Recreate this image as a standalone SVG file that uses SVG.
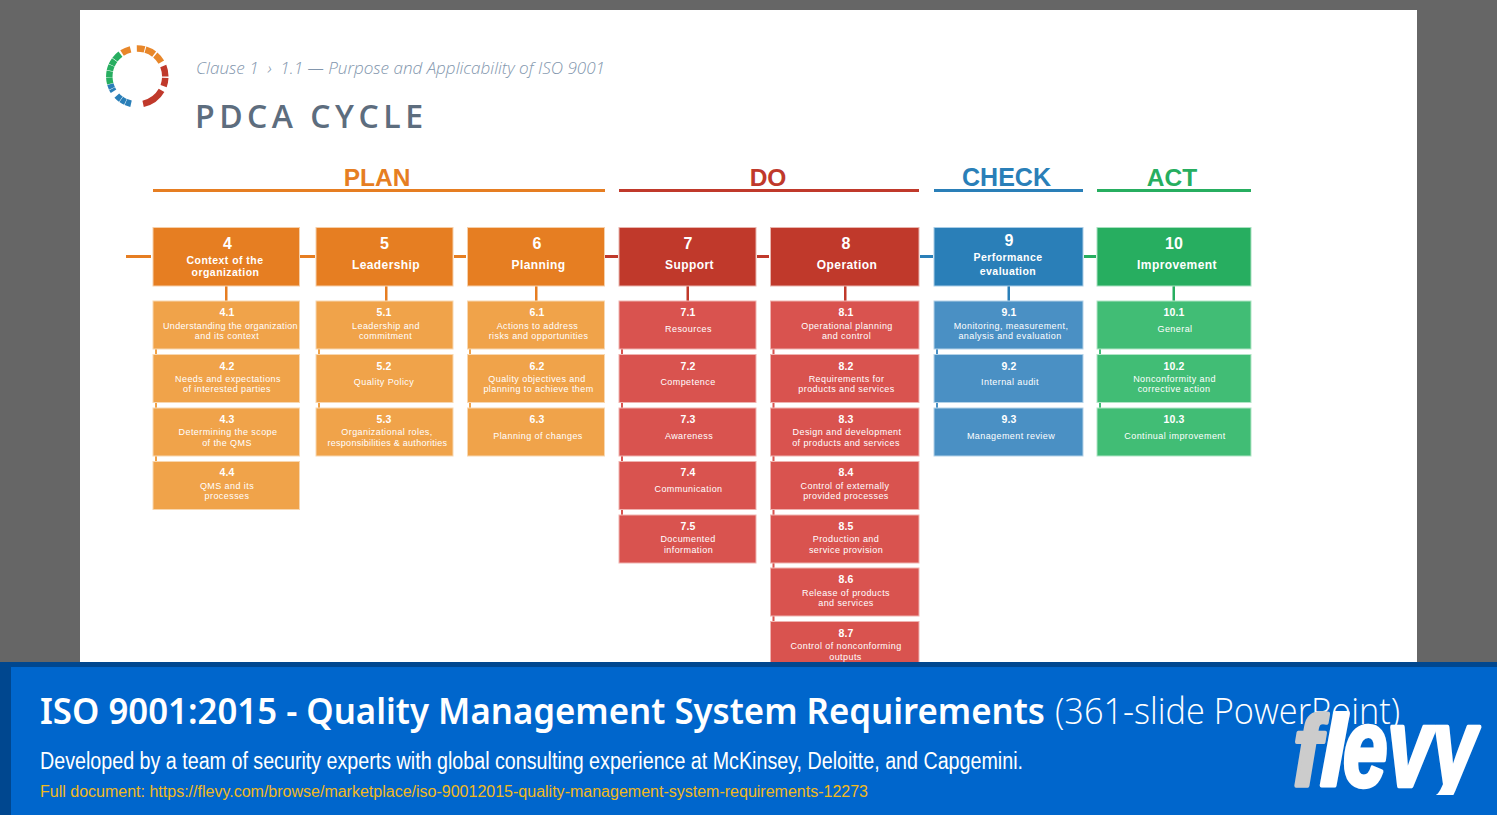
<svg xmlns="http://www.w3.org/2000/svg" width="1497" height="815" viewBox="0 0 1497 815">
<style>
text{font-family:"Liberation Sans",Arial,sans-serif}
.sec{font-size:24.5px;font-weight:700;text-anchor:middle}
.hn{font-size:16px;font-weight:700;fill:#fff;text-anchor:middle}
.ht{font-size:12px;font-weight:700;fill:#fff;text-anchor:middle;letter-spacing:.4px}
.ht2{font-size:10.5px;font-weight:700;fill:#fff;text-anchor:middle;letter-spacing:.45px}
.n{font-size:10.5px;font-weight:700;fill:#fff;text-anchor:middle;letter-spacing:.2px}
.b{font-size:9px;fill:#fff;text-anchor:middle;letter-spacing:.42px}
.o .h{fill:#e67e22;stroke:#f6cfa9}.o .s{fill:#f0a34a;stroke:#f8d7b0}
.r .h{fill:#c0392b;stroke:#e8b5ae}.r .s{fill:#d9534f;stroke:#efb3b0}
.u .h{fill:#2a7fb8;stroke:#a9cde6}.u .s{fill:#4a90c4;stroke:#b3d2e8}
.g .h{fill:#27ae60;stroke:#a7e0bf}.g .s{fill:#41bd75;stroke:#b1e5c6}
.ring circle{fill:none;stroke-width:6.5}
</style>
<defs><clipPath id="logoclip"><rect x="1280" y="700" width="210" height="95"/></clipPath></defs>
<rect width="1497" height="815" fill="#666"/>
<rect x="80" y="10" width="1337" height="652" fill="#fff"/>
<g class="ring" transform="rotate(-90 137.300 76.500)">
<g stroke="#e8872a"><circle cx="137.300" cy="76.500" r="28" pathLength="360" stroke-dasharray="16 344" stroke-dashoffset="1"/><circle cx="137.300" cy="76.500" r="28" pathLength="360" stroke-dasharray="20 340" stroke-dashoffset="-17"/><circle cx="137.300" cy="76.500" r="28" pathLength="360" stroke-dasharray="19 341" stroke-dashoffset="-40"/><circle cx="137.300" cy="76.500" r="28" pathLength="360" stroke-dasharray="19 341" stroke-dashoffset="-327"/></g>
<g stroke="#c0392b"><circle cx="137.300" cy="76.500" r="28" pathLength="360" stroke-dasharray="22 338" stroke-dashoffset="-68"/><circle cx="137.300" cy="76.500" r="28" pathLength="360" stroke-dasharray="17 343" stroke-dashoffset="-93"/><circle cx="137.300" cy="76.500" r="28" pathLength="360" stroke-dasharray="48 312" stroke-dashoffset="-120"/></g>
<g stroke="#2a7fb8"><circle cx="137.300" cy="76.500" r="28" pathLength="360" stroke-dasharray="11 349" stroke-dashoffset="-193"/><circle cx="137.300" cy="76.500" r="28" pathLength="360" stroke-dasharray="10 350" stroke-dashoffset="-205"/><circle cx="137.300" cy="76.500" r="28" pathLength="360" stroke-dasharray="11 349" stroke-dashoffset="-216"/><circle cx="137.300" cy="76.500" r="28" pathLength="360" stroke-dasharray="6 354" stroke-dashoffset="-238"/><circle cx="137.300" cy="76.500" r="28" pathLength="360" stroke-dasharray="9 351" stroke-dashoffset="-245"/></g>
<g stroke="#27ae60"><circle cx="137.300" cy="76.500" r="28" pathLength="360" stroke-dasharray="13 347" stroke-dashoffset="-255"/><circle cx="137.300" cy="76.500" r="28" pathLength="360" stroke-dasharray="12 348" stroke-dashoffset="-269"/><circle cx="137.300" cy="76.500" r="28" pathLength="360" stroke-dasharray="11 349" stroke-dashoffset="-282"/><circle cx="137.300" cy="76.500" r="28" pathLength="360" stroke-dasharray="12 348" stroke-dashoffset="-294"/><circle cx="137.300" cy="76.500" r="28" pathLength="360" stroke-dasharray="16 344" stroke-dashoffset="-307"/></g>
</g>
<text x="196" y="74" style="font-family:'Open Sans','Noto Sans',sans-serif;font-style:italic;font-weight:300" font-size="17" fill="#8296ad" textLength="409" lengthAdjust="spacingAndGlyphs">Clause 1 &#160;› &#160;1.1 — Purpose and Applicability of ISO 9001</text>
<text x="195" y="128" style="font-family:'Open Sans','Noto Sans',sans-serif;font-weight:600" font-size="32" fill="#5d6d7e" textLength="228">PDCA CYCLE</text>

<g id="sections">
<text class="sec" x="377" y="186" fill="#e67e22">PLAN</text><rect x="153" y="189" width="452" height="3" fill="#e67e22"/>
<text class="sec" x="768" y="186" fill="#c0392b">DO</text><rect x="619" y="189" width="300" height="3" fill="#c0392b"/>
<text class="sec" x="1006.500" y="186" fill="#2a7fb8" style="font-size:25px">CHECK</text><rect x="934" y="189" width="149" height="3" fill="#2a7fb8"/>
<text class="sec" x="1172" y="186" fill="#27ae60">ACT</text><rect x="1097" y="189" width="154" height="3" fill="#27ae60"/>
</g>

<g id="connectors">
<g fill="#e67e22"><rect x="126" y="255" width="25" height="3"/><rect x="300" y="255" width="15" height="3"/><rect x="454" y="255" width="12" height="3"/><rect x="225" y="286" width="2.500" height="15"/><rect x="385" y="286" width="2.500" height="15"/><rect x="535" y="286" width="2.500" height="15"/></g>
<g fill="#c0392b"><rect x="605" y="255" width="13" height="3"/><rect x="757" y="255" width="12" height="3"/><rect x="686.500" y="286" width="2.500" height="15"/><rect x="844" y="286" width="2.500" height="15"/></g>
<g fill="#2a7fb8"><rect x="920" y="255" width="13" height="3"/><rect x="1007.500" y="286" width="2.500" height="15"/></g>
<g fill="#27ae60"><rect x="1084" y="255" width="12" height="3"/><rect x="1172.500" y="286" width="2.500" height="15"/></g>
<g fill="#f0a34a"><rect x="155" y="349" width="2" height="112"/><rect x="318" y="349" width="2" height="59"/><rect x="469" y="349" width="2" height="59"/></g>
<g fill="#d9534f"><rect x="621" y="349" width="2" height="166"/><rect x="772.500" y="349" width="2" height="272"/></g>
<rect x="936" y="349" width="2" height="59" fill="#4a90c4"/>
<rect x="1099" y="349" width="2" height="59" fill="#41bd75"/>
</g>

<g class="o">
<g id="n4"><rect class="h" x="153" y="227.500" width="146.500" height="58.500"/><text class="hn" x="227.500" y="249">4</text><text class="ht2" x="225" y="264">Context of the</text><text class="ht2" x="225.500" y="276">organization</text></g>
<g id="n4-1"><rect class="s" x="153" y="301" width="146.500" height="48"/><text class="n" x="227" y="316">4.1</text><text class="b" x="230.500" y="329" textLength="135">Understanding the organization</text><text class="b" x="227" y="339">and its context</text></g>
<g id="n4-2"><rect class="s" x="153" y="354.500" width="146.500" height="48"/><text class="n" x="227" y="370">4.2</text><text class="b" x="228" y="382">Needs and expectations</text><text class="b" x="227" y="392">of interested parties</text></g>
<g id="n4-3"><rect class="s" x="153" y="408" width="146.500" height="48"/><text class="n" x="227" y="423">4.3</text><text class="b" x="228" y="435">Determining the scope</text><text class="b" x="227" y="446">of the QMS</text></g>
<g id="n4-4"><rect class="s" x="153" y="461.500" width="146.500" height="48"/><text class="n" x="227" y="476">4.4</text><text class="b" x="227" y="489">QMS and its</text><text class="b" x="227" y="499">processes</text></g>
<g id="n5"><rect class="h" x="316" y="227.500" width="137" height="58.500"/><text class="hn" x="384.500" y="249">5</text><text class="ht" x="386" y="269">Leadership</text></g>
<g id="n5-1"><rect class="s" x="316" y="301" width="137" height="48"/><text class="n" x="384" y="316">5.1</text><text class="b" x="386" y="329">Leadership and</text><text class="b" x="385.500" y="339">commitment</text></g>
<g id="n5-2"><rect class="s" x="316" y="354.500" width="137" height="48"/><text class="n" x="384" y="370">5.2</text><text class="b" x="384" y="385">Quality Policy</text></g>
<g id="n5-3"><rect class="s" x="316" y="408" width="137" height="48"/><text class="n" x="384" y="423">5.3</text><text class="b" x="387" y="435">Organizational roles,</text><text class="b" x="387.500" y="446" textLength="120">responsibilities &amp; authorities</text></g>
<g id="n6"><rect class="h" x="467.500" y="227.500" width="137" height="58.500"/><text class="hn" x="537" y="249">6</text><text class="ht" x="538.500" y="269">Planning</text></g>
<g id="n6-1"><rect class="s" x="467.500" y="301" width="137" height="48"/><text class="n" x="537" y="316">6.1</text><text class="b" x="537.500" y="329">Actions to address</text><text class="b" x="538.500" y="339">risks and opportunities</text></g>
<g id="n6-2"><rect class="s" x="467.500" y="354.500" width="137" height="48"/><text class="n" x="537" y="370">6.2</text><text class="b" x="537" y="382">Quality objectives and</text><text class="b" x="538.500" y="392">planning to achieve them</text></g>
<g id="n6-3"><rect class="s" x="467.500" y="408" width="137" height="48"/><text class="n" x="537" y="423">6.3</text><text class="b" x="538" y="439">Planning of changes</text></g>
</g>

<g class="r">
<g id="n7"><rect class="h" x="619" y="227.500" width="137" height="58.500"/><text class="hn" x="688" y="249">7</text><text class="ht" x="689.500" y="269">Support</text></g>
<g id="n7-1"><rect class="s" x="619" y="301" width="137" height="48"/><text class="n" x="688" y="316">7.1</text><text class="b" x="688.500" y="332">Resources</text></g>
<g id="n7-2"><rect class="s" x="619" y="354.500" width="137" height="48"/><text class="n" x="688" y="370">7.2</text><text class="b" x="688" y="385">Competence</text></g>
<g id="n7-3"><rect class="s" x="619" y="408" width="137" height="48"/><text class="n" x="688" y="423">7.3</text><text class="b" x="689" y="439">Awareness</text></g>
<g id="n7-4"><rect class="s" x="619" y="461.500" width="137" height="48"/><text class="n" x="688" y="476">7.4</text><text class="b" x="688.500" y="492">Communication</text></g>
<g id="n7-5"><rect class="s" x="619" y="515" width="137" height="48"/><text class="n" x="688" y="530">7.5</text><text class="b" x="688" y="542">Documented</text><text class="b" x="688.500" y="553">information</text></g>
<g id="n8"><rect class="h" x="770.500" y="227.500" width="148.500" height="58.500"/><text class="hn" x="846" y="249">8</text><text class="ht" x="847" y="269">Operation</text></g>
<g id="n8-1"><rect class="s" x="770.500" y="301" width="148.500" height="48"/><text class="n" x="846" y="316">8.1</text><text class="b" x="847" y="329">Operational planning</text><text class="b" x="846.500" y="339">and control</text></g>
<g id="n8-2"><rect class="s" x="770.500" y="354.500" width="148.500" height="48"/><text class="n" x="846" y="370">8.2</text><text class="b" x="846.500" y="382">Requirements for</text><text class="b" x="846.500" y="392">products and services</text></g>
<g id="n8-3"><rect class="s" x="770.500" y="408" width="148.500" height="48"/><text class="n" x="846" y="423">8.3</text><text class="b" x="847" y="435">Design and development</text><text class="b" x="846" y="446">of products and services</text></g>
<g id="n8-4"><rect class="s" x="770.500" y="461.500" width="148.500" height="48"/><text class="n" x="846" y="476">8.4</text><text class="b" x="845" y="489">Control of externally</text><text class="b" x="846" y="499">provided processes</text></g>
<g id="n8-5"><rect class="s" x="770.500" y="515" width="148.500" height="48"/><text class="n" x="846" y="530">8.5</text><text class="b" x="846" y="542">Production and</text><text class="b" x="846" y="553">service provision</text></g>
<g id="n8-6"><rect class="s" x="770.500" y="568" width="148.500" height="48"/><text class="n" x="846" y="583">8.6</text><text class="b" x="846" y="596">Release of products</text><text class="b" x="846" y="606">and services</text></g>
<g id="n8-7"><rect class="s" x="770.500" y="621.500" width="148.500" height="48"/><text class="n" x="846" y="637">8.7</text><text class="b" x="846" y="649">Control of nonconforming</text><text class="b" x="845.500" y="660">outputs</text></g>
</g>

<g class="u">
<g id="n9"><rect class="h" x="934" y="227.500" width="149" height="58.500"/><text class="hn" x="1009" y="246">9</text><text class="ht2" x="1008" y="261">Performance</text><text class="ht2" x="1008" y="275">evaluation</text></g>
<g id="n9-1"><rect class="s" x="934" y="301" width="149" height="48"/><text class="n" x="1009" y="316">9.1</text><text class="b" x="1011" y="329">Monitoring, measurement,</text><text class="b" x="1010" y="339">analysis and evaluation</text></g>
<g id="n9-2"><rect class="s" x="934" y="354.500" width="149" height="48"/><text class="n" x="1009" y="370">9.2</text><text class="b" x="1010" y="385">Internal audit</text></g>
<g id="n9-3"><rect class="s" x="934" y="408" width="149" height="48"/><text class="n" x="1009" y="423">9.3</text><text class="b" x="1011" y="439">Management review</text></g>
</g>

<g class="g">
<g id="n10"><rect class="h" x="1097" y="227.500" width="154" height="58.500"/><text class="hn" x="1174" y="249">10</text><text class="ht" x="1177" y="269">Improvement</text></g>
<g id="n10-1"><rect class="s" x="1097" y="301" width="154" height="48"/><text class="n" x="1174" y="316">10.1</text><text class="b" x="1175" y="332">General</text></g>
<g id="n10-2"><rect class="s" x="1097" y="354.500" width="154" height="48"/><text class="n" x="1174" y="370">10.2</text><text class="b" x="1174.500" y="382">Nonconformity and</text><text class="b" x="1174" y="392">corrective action</text></g>
<g id="n10-3"><rect class="s" x="1097" y="408" width="154" height="48"/><text class="n" x="1174" y="423">10.3</text><text class="b" x="1175" y="439">Continual improvement</text></g>
</g>

<g id="banner">
<rect x="0" y="662" width="1497" height="153" fill="#00478f"/>
<rect x="11" y="667" width="1486" height="148" fill="#0066cc"/>
<text x="40" y="724" style="font-family:'Noto Sans','Open Sans',sans-serif;font-weight:600" font-size="36" fill="#fff" textLength="1005" lengthAdjust="spacingAndGlyphs">ISO 9001:2015 - Quality Management System Requirements</text>
<text x="1055" y="724" style="font-family:'Open Sans','Noto Sans',sans-serif;font-weight:300" font-size="36" fill="#fff" textLength="345" lengthAdjust="spacingAndGlyphs">(361-slide PowerPoint)</text>
<text x="40" y="769" font-size="23" fill="#fff" textLength="983" lengthAdjust="spacingAndGlyphs">Developed by a team of security experts with global consulting experience at McKinsey, Deloitte, and Capgemini.</text>
<text x="40" y="797" font-size="16" fill="#f2b91c" textLength="828" lengthAdjust="spacingAndGlyphs">Full document: https://flevy.com/browse/marketplace/iso-90012015-quality-management-system-requirements-12273</text>
<g font-size="100" font-weight="700" font-style="italic" stroke-width="4" stroke-linejoin="round" clip-path="url(#logoclip)">
<text transform="translate(1293 786) scale(.85 1)" fill="#ccc" stroke="#ccc">f</text>
<text transform="translate(1320 786) scale(.95 1)" fill="#fff" stroke="#fff">l</text>
<text transform="translate(1343 786) scale(.8 1.12)" fill="#fff" stroke="#fff">evy</text>
</g>
</g>
</svg>
